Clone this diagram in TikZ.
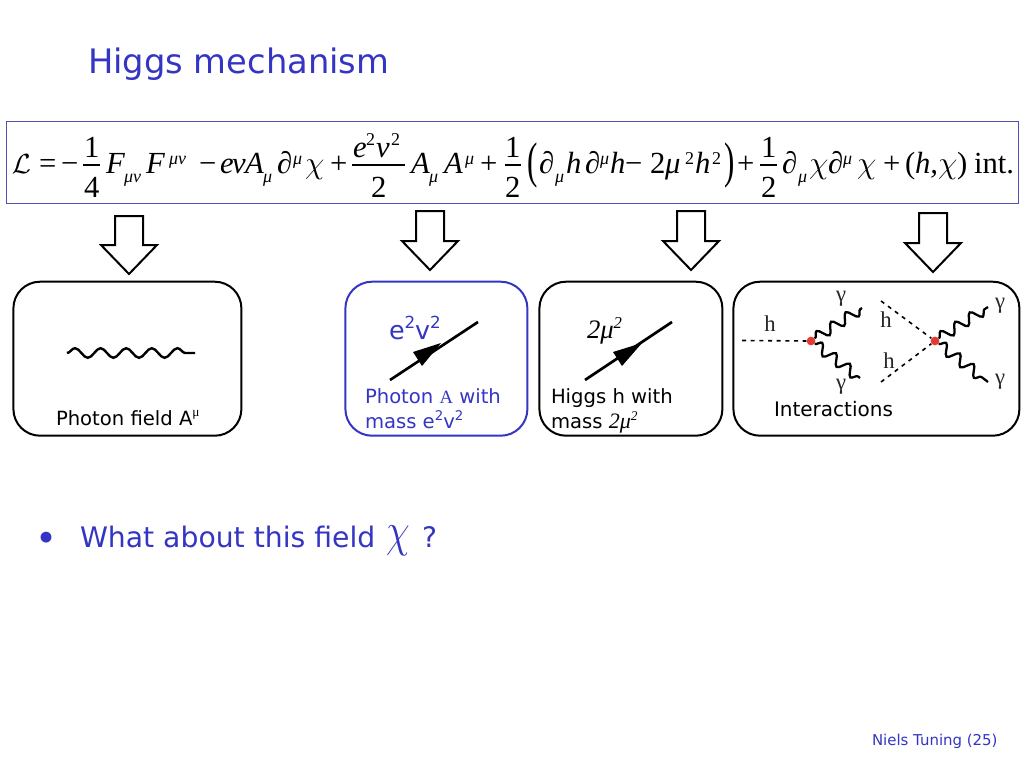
\documentclass[tikz,border=0pt]{standalone}
\usepackage{fontspec}
\usetikzlibrary{decorations.pathmorphing}
\setmainfont{DejaVu Sans}
\newfontfamily\tm{Liberation Serif}
\definecolor{slideblue}{HTML}{3535C4}
\definecolor{framebl}{HTML}{5050B8}
\definecolor{dotred}{HTML}{E23A2E}
\newcounter{eqc}
\newcommand{\sz}[1]{\fontsize{#1}{#1}\selectfont}
\newcommand{\eqi}[4][23]{\stepcounter{eqc}\node[eqpiece,name=eq\arabic{eqc}] at (#2,#3) {\sz{#1}\tm\itshape #4};}
\newcommand{\eqr}[4][23]{\stepcounter{eqc}\node[eqpiece,name=eq\arabic{eqc}] at (#2,#3) {\sz{#1}\tm #4};}
\newcommand{\eqx}[3]{\stepcounter{eqc}\node[eqpiece,name=eq\arabic{eqc}] at (#1,#2) {\scalebox{0.62}[1]{\sz{37.5}\tm #3}};}
\newcommand{\eqchi}[2]{\stepcounter{eqc}\node[eqpiece,name=eq\arabic{eqc}] at (#1,#2) {\scalebox{0.95}{\sz{24.88}$\chi$}};}
\newcommand{\tmmu}[1]{{\tm\itshape 2μ\raisebox{.35em}{\tm\itshape\fontsize{#1}{#1}\selectfont 2}}}
\tikzset{
  x=0.75pt,y=-0.75pt,
  eqpiece/.style={anchor=base west,inner sep=0pt,outer sep=0pt},
  lbl/.style={anchor=base west,inner sep=0pt,outer sep=0pt},
  fieldbox/.style={draw=black,line width=1.5pt,rounded corners=20pt,anchor=north west,inner sep=0pt,outer sep=0pt,fill=white},
  blockarrow/.style={draw=black,fill=white,line width=1.5pt,line join=miter},
  wave/.style={line width=1.7pt,decorate,decoration={snake,amplitude=4pt,segment length=13pt}},
  feyndash/.style={line width=1.2pt,dash pattern=on 3pt off 3.5pt},
  reddot/.style={circle,fill=dotred,inner sep=0pt,minimum size=6.5pt},
  fermion/.style={line width=2pt,line cap=butt},
}
\newcommand{\downarrowat}[4]{\draw[blockarrow] (#1-14,#2) -- (#1+14,#2) -- (#1+14,#3) -- (#1+28,#3) -- (#1,#4) -- (#1-28,#3) -- (#1-14,#3) -- cycle;}
\begin{document}
\begin{tikzpicture}
\useasboundingbox (0,0) rectangle (1024,768);
\fill[white] (0,0) rectangle (1024,768);
% title
\node[lbl,text=slideblue] (title) at (88,73.5) {\sz{25.3}Higgs mechanism};
% equation frame
\node[draw=framebl,line width=0.75pt,anchor=north west,minimum width=1012*0.75pt,minimum height=82*0.75pt,inner sep=0pt,outer sep=0pt] (frame) at (6.5,121.5) {};
% equation
\def\bl{173}\def\bsub{182}\def\bsup{164}
\node[eqpiece] (eqL) at (12,\bl) {\sz{22}$\mathcal{L}$};
\eqr{39}{\bl}{=}
\eqr{61}{\bl}{−}
\eqr{84}{157}{1}\eqr{84}{197}{4}
\draw[line width=1pt] (83,165) -- (100,165);
\eqi{106}{\bl}{F}\eqi[13.5]{124}{\bsub}{μν}
\eqi{146}{\bl}{F}\eqi[13.5]{169}{\bsup}{μν}
\eqr{199}{\bl}{−}
\eqi{220}{\bl}{e}\eqi{232}{\bl}{v}\eqi{245}{\bl}{A}\eqi[13.5]{263}{\bsub}{μ}
\eqi{277}{\bl}{∂}\eqi[13.5]{293}{\bsup}{μ}
\eqchi{305}{\bl}
\eqr{330}{\bl}{+}
\eqi{353}{157}{e}\eqr[13.5]{366}{145}{2}\eqi{376}{157}{v}\eqr[13.5]{391}{145}{2}
\draw[line width=1pt] (352,165) -- (405,165);
\eqr{371}{197}{2}
\eqi{411}{\bl}{A}\eqi[13.5]{429}{\bsub}{μ}
\eqi{444}{\bl}{A}\eqi[13.5]{465}{\bsup}{μ}
\eqr{480}{\bl}{+}
\eqr{505}{157}{1}\eqr{505}{197}{2}
\draw[line width=1pt] (505,165) -- (521,165);
\eqx{527}{177}{(}
\eqi{539}{\bl}{∂}\eqi[13.5]{555}{\bsub}{μ}
\eqi{566}{\bl}{h}
\eqi{585}{\bl}{∂}\eqi[13.5]{600}{\bsup}{μ}
\eqi{610}{\bl}{h}
\eqr{625}{\bl}{−}
\eqr{650}{\bl}{2}\eqi{665}{\bl}{μ}\eqr[13.5]{685}{164}{2}
\eqi{695}{\bl}{h}\eqr[13.5]{712}{164}{2}
\eqx{724}{177}{)}
\eqr{737}{\bl}{+}
\eqr{761}{157}{1}\eqr{761}{197}{2}
\draw[line width=1pt] (760,165) -- (777,165);
\eqi{782}{\bl}{∂}\eqi[13.5]{798}{\bsub}{μ}
\eqchi{809}{\bl}
\eqi{828}{\bl}{∂}\eqi[13.5]{843}{\bsup}{μ}
\eqchi{857}{\bl}
\eqr{883}{\bl}{+}
\eqr{905}{\bl}{(}\eqi{915}{\bl}{h,}\eqchi{938}{\bl}\eqr{957}{\bl}{)}
\eqr{974}{\bl}{int.}
% block arrows
\downarrowat{129}{216}{245}{274}
\downarrowat{430}{211}{241}{270}
\downarrowat{691}{211}{241}{270}
\downarrowat{933}{213}{243}{272}
% boxes
\node[fieldbox,minimum width=228*0.75pt,minimum height=154*0.75pt] (box1) at (13.4,281.7) {};
\node[fieldbox,draw=slideblue,minimum width=182*0.75pt,minimum height=154*0.75pt] (box2) at (345.4,281.7) {};
\node[fieldbox,minimum width=183*0.75pt,minimum height=154*0.75pt] (box3) at (539.4,281.7) {};
\node[fieldbox,minimum width=286*0.75pt,minimum height=154*0.75pt] (box4) at (733.4,281.7) {};
% box 1
\coordinate (ph1) at (67,353); \coordinate (ph2) at (195,353);
\draw[line width=1.8pt,decorate,decoration={snake,amplitude=3.6pt,segment length=19.2pt}] (ph1) -- (ph2);
\node[lbl] (t1) at (56,425) {\sz{14.7}Photon field A\raisebox{.45em}{\tm\sz{10}μ}};
% box 2
\coordinate (f1a) at (390,380); \coordinate (f1b) at (478,322);
\draw[fermion] (f1a) -- (f1b);
\fill (441,343) -- (413,352) -- (422,366) -- cycle;
\node[lbl,text=slideblue] (m1) at (389,339) {\sz{19}e\raisebox{.4em}{\sz{12.5}2}v\raisebox{.4em}{\sz{12.5}2}};
\node[lbl,text=slideblue] (t2a) at (365,403) {\sz{14.7}Photon {\tm\sz{14}A} with};
\node[lbl,text=slideblue] (t2b) at (365,428) {\sz{14.7}mass e\raisebox{.4em}{\sz{10}2}v\raisebox{.4em}{\sz{10}2}};
% box 3
\coordinate (f2a) at (585,380); \coordinate (f2b) at (672,322);
\draw[fermion] (f2a) -- (f2b);
\fill (642,343) -- (613,352) -- (622,366) -- cycle;
\node[lbl] (m2) at (587,338) {\sz{20}\tmmu{12.5}};
\node[lbl] (t3a) at (551,403) {\sz{14.7}Higgs h with};
\node[lbl] (t3b) at (551,428) {\sz{14.7}mass {\sz{16.5}\tmmu{10}}};
% box 4
\coordinate (ha) at (742,340.5);
\node[reddot] (v1) at (811,341) {};
\coordinate (g1) at (862,308); \coordinate (g2) at (860,378);
\draw[feyndash] (ha) -- (v1);
\draw[wave] (v1) -- (g1);
\draw[wave] (v1) -- (g2);
\coordinate (hb) at (881,301); \coordinate (hc) at (881,382);
\node[reddot] (v2) at (935,341) {};
\coordinate (g3) at (988,307); \coordinate (g4) at (988,382);
\draw[feyndash] (hb) -- (v2);
\draw[feyndash] (hc) -- (v2);
\draw[wave] (v2) -- (g3);
\draw[wave] (v2) -- (g4);
\node[text=black!85] (lh1) at (770,324) {\tm\sz{17}h};
\node[text=black!85] (lg1) at (841,299) {\tm\sz{17}γ};
\node[text=black!85] (lg2) at (841,387) {\tm\sz{17}γ};
\node[text=black!85] (lh2) at (886,320) {\tm\sz{17}h};
\node[text=black!85] (lh3) at (889,361) {\tm\sz{17}h};
\node[text=black!85] (lg3) at (1000,306) {\tm\sz{17}γ};
\node[text=black!85] (lg4) at (1000,382) {\tm\sz{17}γ};
\node[lbl] (t4) at (774,416.5) {\sz{15}Interactions};
% bullet
\node[lbl,text=slideblue] (bul) at (36,551) {\sz{28}•};
\node[lbl,text=slideblue] (q1) at (80,547) {\sz{21.2}What about this field};
\node[lbl,text=slideblue] (chi) at (386,546) {\scalebox{1.16}[1.45]{\sz{24.88}$\chi$}};
\node[lbl,text=slideblue] (q2) at (422,547) {\sz{21.2}?};
% footer
\node[lbl,text=slideblue] (foot) at (872,745) {\sz{11.2}Niels Tuning (25)};
\end{tikzpicture}
\end{document}
